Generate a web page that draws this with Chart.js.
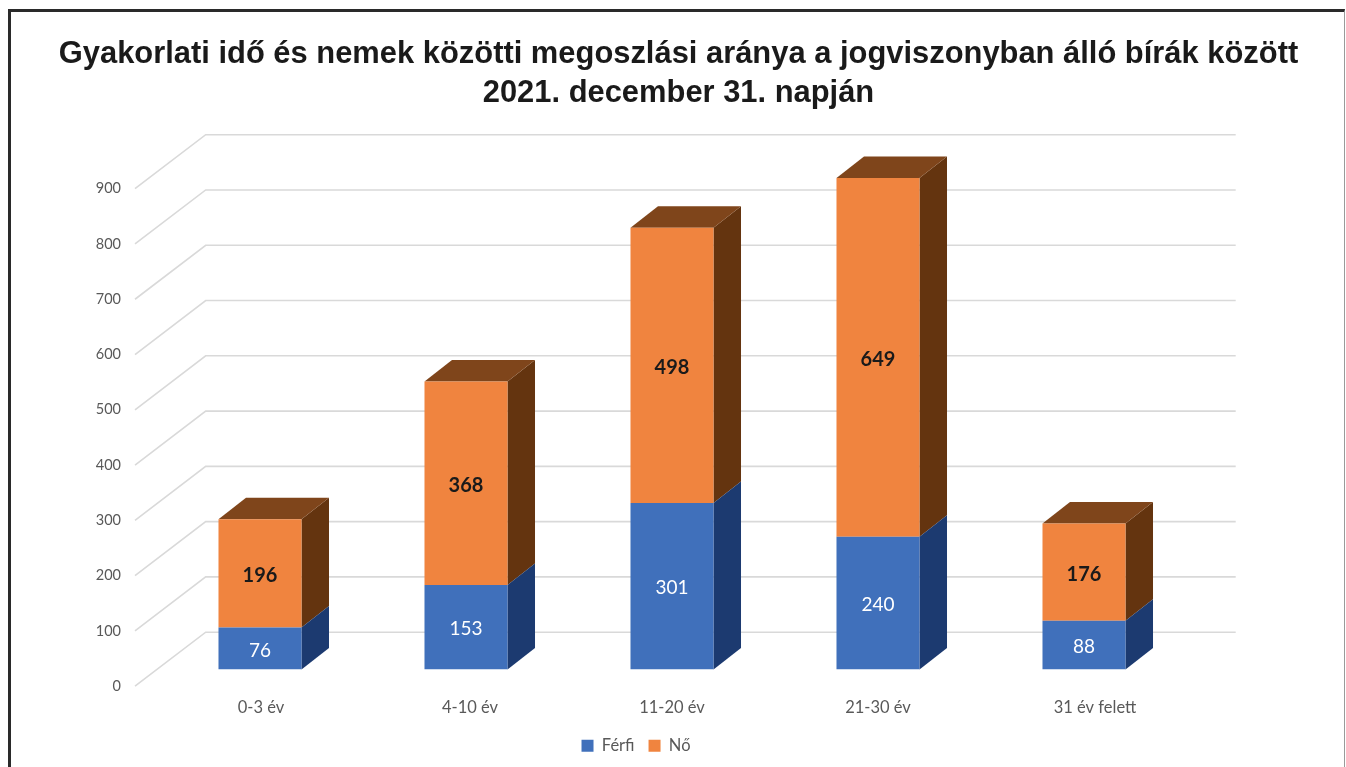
<!DOCTYPE html>
<html>
<head>
<meta charset="utf-8">
<script src="https://cdn.jsdelivr.net/npm/chart.js@4"></script>
<style>
    html, body { margin: 0; padding: 0; background: #ffffff; overflow: hidden; }
    #wrap { position: absolute; left: 0; top: 0; width: 1346px; height: 767px; }
    #frame { position: absolute; left: 8px; top: 9px; width: 1337px; height: 758px; box-sizing: border-box;
             border-left: 3px solid #2a2a2a; border-top: 3px solid #2a2a2a; border-right: 1px solid #9a9a9a; }
</style>
</head>
<body>
<div id="wrap">
    <div id="frame"></div>
    <canvas id="bars-chart"></canvas>
</div>
<script>
const categories = ["0-3 év", "4-10 év", "11-20 év", "21-30 év", "31 év felett"]
const ferfi = [76, 153, 301, 240, 88]
const no = [196, 368, 498, 649, 176]
const titleLines = [
    "Gyakorlati idő és nemek közötti megoszlási aránya a jogviszonyban álló bírák között",
    "2021. december 31. napján"
]

// fake 3D offsets
const barDepthX = 27.5
const barDepthY = 21.5

const shade = {
    blueSide: '#1c3a70',
    orangeSide: '#64340f',
    orangeTop: '#7f451b'
}

const wallGrid = {
    id: 'wallGrid',
    beforeDatasetsDraw(chart) {
        const ctx = chart.ctx
        const yScale = chart.scales.y
        const left = chart.chartArea.left
        const right = chart.chartArea.right
        ctx.save()
        ctx.strokeStyle = '#d9d9d9'
        ctx.lineWidth = 1.6
        yScale.ticks.forEach(t => {
            const y = yScale.getPixelForValue(t.value)
            ctx.beginPath()
            ctx.moveTo(left - 22, y + 16.7)
            ctx.lineTo(left + 48.7, y - 37.3)
            ctx.lineTo(right + 48.7, y - 37.3)
            ctx.stroke()
        })
        ctx.restore()
    }
}

const boxFaces = {
    id: 'boxFaces',
    beforeDatasetDraw(chart, args) {
        const ctx = chart.ctx
        const meta = chart.getDatasetMeta(args.index)
        const isTop = args.index === chart.data.datasets.length - 1
        ctx.save()
        meta.data.forEach(bar => {
            const r = bar.x + bar.width / 2
            const l = bar.x - bar.width / 2
            ctx.fillStyle = isTop ? shade.orangeSide : shade.blueSide
            ctx.beginPath()
            ctx.moveTo(r, bar.base)
            ctx.lineTo(r + barDepthX, bar.base - barDepthY)
            ctx.lineTo(r + barDepthX, bar.y - barDepthY)
            ctx.lineTo(r, bar.y)
            ctx.closePath()
            ctx.fill()
            if (isTop) {
                ctx.fillStyle = shade.orangeTop
                ctx.beginPath()
                ctx.moveTo(l, bar.y)
                ctx.lineTo(l + barDepthX, bar.y - barDepthY)
                ctx.lineTo(r + barDepthX, bar.y - barDepthY)
                ctx.lineTo(r, bar.y)
                ctx.closePath()
                ctx.fill()
            }
        })
        ctx.restore()
    }
}

const barValues = {
    id: 'barValues',
    afterDatasetsDraw(chart) {
        const ctx = chart.ctx
        ctx.save()
        ctx.textAlign = 'center'
        ctx.textBaseline = 'middle'
        chart.data.datasets.forEach((ds, i) => {
            ctx.font = i === 1 ? 'bold 20px Lato' : '19px Lato'
            ctx.fillStyle = i === 1 ? '#1a1a1a' : '#ffffff'
            chart.getDatasetMeta(i).data.forEach((bar, j) => {
                ctx.fillText(ds.data[j], bar.x, (bar.y + bar.base) / 2 + 2)
            })
        })
        ctx.restore()
    }
}

// title, legend and x labels are not centred on the plot in the original
const nudges = {
    id: 'nudges',
    afterLayout(chart) {
        chart.titleBlock.left = 0
        chart.titleBlock.right = 1357
        chart.legend.left = 336
        chart.legend.right = 936
        chart.legend.top -= 3
        chart.legend.bottom -= 3
        const shift = [1, 4, 0, 0, 11]
        chart.scales.x.getLabelItems().forEach((item, i) => {
            item.options.translation[0] += shift[i]
        })
    }
}

let barsChart = new Chart(document.getElementById("bars-chart"), {
    type: 'bar',
    data: {
        labels: categories,
        datasets: [
            {
                label: 'Férfi',
                backgroundColor: '#4070bb',
                data: ferfi
            },
            {
                label: 'Nő',
                backgroundColor: '#f0843f',
                data: no
            }
        ]
    },
    plugins: [wallGrid, boxFaces, barValues, nudges],
    options: {
        animation: false,
        responsive: true,
        maintainAspectRatio: false,
        barPercentage: 0.403,
        categoryPercentage: 1,
        layout: {
            padding: {
                left: 30,
                right: 159,
                top: 35,
                bottom: 0
            }
        },
        plugins: {
            title: {
                display: true,
                text: titleLines,
                color: '#1a1a1a',
                font: {
                    family: "'Liberation Sans'",
                    weight: 'bold',
                    size: 30.9,
                    lineHeight: 1.262
                },
                padding: {
                    top: 0,
                    bottom: 59
                }
            },
            legend: {
                position: 'bottom',
                labels: {
                    boxWidth: 12,
                    boxHeight: 12,
                    padding: 14,
                    color: '#595959',
                    font: {
                        family: "Lato",
                        size: 16.5
                    }
                }
            },
            tooltip: {
                enabled: false
            }
        },
        scales: {
            x: {
                stacked: true,
                border: {
                    display: false
                },
                grid: {
                    display: false,
                    drawTicks: false
                },
                afterFit(scale) {
                    scale.height = 57
                },
                ticks: {
                    padding: 28,
                    color: '#595959',
                    maxRotation: 0,
                    font: {
                        family: "Lato",
                        size: 16.5
                    }
                }
            },
            y: {
                stacked: true,
                min: 0,
                max: 900,
                border: {
                    display: false
                },
                grid: {
                    display: false,
                    drawTicks: false
                },
                afterFit(scale) {
                    scale.width = 127
                },
                ticks: {
                    stepSize: 100,
                    padding: 36,
                    labelOffset: 16.7,
                    color: '#595959',
                    font: {
                        family: "Lato",
                        size: 14.5
                    }
                }
            }
        }
    }
})
</script>
</body>
</html>
